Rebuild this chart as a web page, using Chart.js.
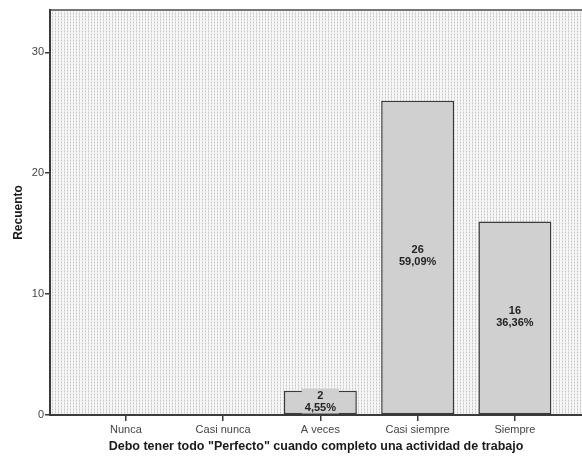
<!DOCTYPE html>
<html>
<head>
<meta charset="utf-8">
<script src="https://cdn.jsdelivr.net/npm/chart.js@4"></script>
<style>
html,body{margin:0;padding:0;background:#fff;}
#wrap{width:582px;height:460px;}
</style>
</head>
<body>
<div id="wrap"><canvas id="c" width="582" height="460"></canvas></div>
<script>
const categories = ["Nunca", "Casi nunca", "A veces", "Casi siempre", "Siempre"];
const counts = [0, 0, 2, 26, 16];
const yTicks = [0, 10, 20, 30];
const xTitle = 'Debo tener todo "Perfecto" cuando completo una actividad de trabajo';
const yTitle = 'Recuento';

const total = counts.reduce((a, b) => a + b, 0);
const barFill = '#d0d0d0';
const lineCol = '#3a3a3a';

function makePattern(ctx) {
  const t = document.createElement('canvas');
  t.width = 3; t.height = 3;
  const g = t.getContext('2d');
  g.fillStyle = '#f6f6f6';
  g.fillRect(0, 0, 3, 3);
  g.fillStyle = '#c4c4c4';
  g.fillRect(1, 1, 1, 1);
  g.fillStyle = '#e2e2e2';
  g.fillRect(1, 0, 1, 1);
  g.fillRect(1, 2, 1, 1);
  return ctx.createPattern(t, 'repeat');
}

const bgPlugin = {
  id: 'bg',
  beforeDraw(chart) {
    const { ctx, chartArea: a } = chart;
    ctx.save();
    ctx.fillStyle = makePattern(ctx);
    ctx.fillRect(a.left, a.top, a.right - a.left, a.bottom - a.top);
    ctx.strokeStyle = '#777';
    ctx.lineWidth = 2;
    ctx.beginPath();
    ctx.moveTo(a.left, a.top);
    ctx.lineTo(a.right, a.top);
    ctx.stroke();
    ctx.restore();
  }
};

const labelPlugin = {
  id: 'lbl',
  afterDatasetsDraw(chart) {
    const { ctx } = chart;
    const meta = chart.getDatasetMeta(0);
    ctx.save();
    ctx.font = 'bold 11px "Liberation Sans", Arial, sans-serif';
    ctx.textAlign = 'center';
    ctx.textBaseline = 'middle';
    meta.data.forEach((bar, i) => {
      const v = counts[i];
      if (!v) return;
      const cx = bar.x;
      const cy = (bar.y + bar.base) / 2 - 1;
      const l1 = String(v);
      const l2 = (v / total * 100).toFixed(2).replace('.', ',') + '%';
      const w = Math.max(ctx.measureText(l1).width, ctx.measureText(l2).width) + 6;
      ctx.fillStyle = barFill;
      ctx.fillRect(cx - w / 2, cy - 13, w, 25);
      ctx.fillStyle = '#222';
      ctx.fillText(l1, cx, cy - 6);
      ctx.fillText(l2, cx, cy + 6);
    });
    ctx.restore();
  }
};

new Chart(document.getElementById('c'), {
  type: 'bar',
  data: {
    datasets: [{
      data: counts.map((v, i) => ({ x: i, y: v === 0 ? null : v })),
      backgroundColor: barFill,
      borderColor: lineCol,
      borderWidth: 1.5,
      borderSkipped: false,
      barPercentage: 0.75,
      categoryPercentage: 1
    }]
  },
  options: {
    responsive: false,
    animation: false,
    layout: { padding: { top: 10, right: 0, left: 0, bottom: 0 } },
    plugins: { legend: { display: false }, tooltip: { enabled: false } },
    scales: {
      x: {
        type: 'linear',
        min: -0.78,
        max: 4.69,
        offset: false,
        afterBuildTicks(s) { s.ticks = categories.map((c, i) => ({ value: i })); },
        afterFit(s) { s.height = 45; },
        ticks: {
          autoSkip: false,
          maxRotation: 0,
          padding: 2,
          color: '#444',
          font: { family: '"Liberation Sans", Arial, sans-serif', size: 11 },
          callback: (v) => categories[v]
        },
        grid: { offset: false, drawOnChartArea: false, tickLength: 6, color: lineCol, lineWidth: 1.5 },
        border: { display: true, color: lineCol, width: 2 },
        title: {
          display: true,
          text: xTitle,
          color: '#1a1a1a',
          padding: { top: 4, bottom: 6 },
          font: { family: '"Liberation Sans", Arial, sans-serif', size: 12.5, weight: 'bold' }
        }
      },
      y: {
        min: 0,
        max: 33.5,
        afterBuildTicks(s) { s.ticks = yTicks.map(v => ({ value: v })); },
        afterFit(s) { s.width = 50; },
        ticks: {
          padding: 1,
          color: '#444',
          font: { family: '"Liberation Sans", Arial, sans-serif', size: 11 }
        },
        grid: { offset: false, drawOnChartArea: false, tickLength: 5, color: lineCol, lineWidth: 1.5 },
        border: { display: true, color: lineCol, width: 2 },
        title: {
          display: true,
          text: yTitle,
          color: '#1a1a1a',
          padding: { top: 11, bottom: 4 },
          font: { family: '"Liberation Sans", Arial, sans-serif', size: 12, weight: 'bold' }
        }
      }
    }
  },
  plugins: [bgPlugin, labelPlugin]
});
</script>
</body>
</html>
